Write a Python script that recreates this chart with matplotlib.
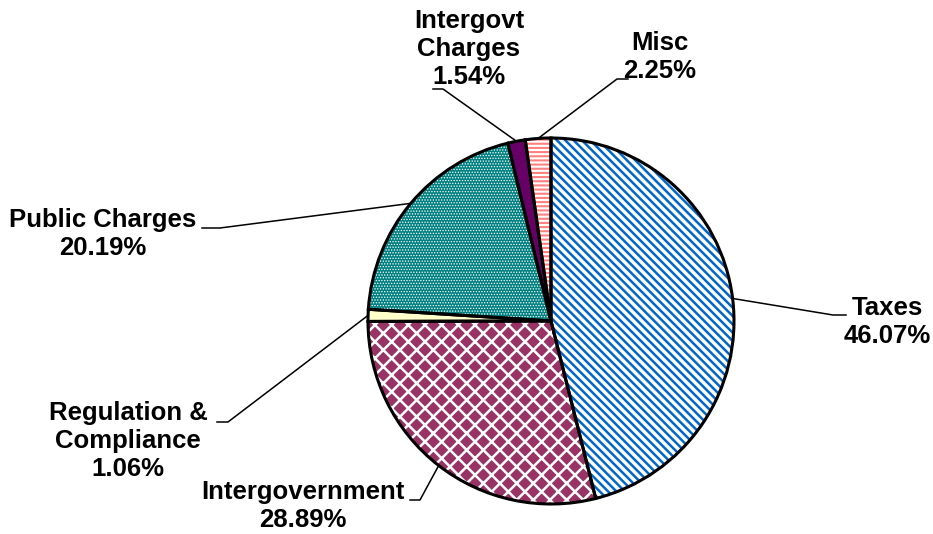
import numpy as np
import matplotlib
matplotlib.use("Agg")
import matplotlib.pyplot as plt

# revenue shares, clockwise from 12 o'clock
labels = ["Taxes", "Intergovernment", "Regulation &\nCompliance", "Public Charges",
          "Intergovt\nCharges", "Misc"]
shares = [46.07, 28.89, 1.06, 20.19, 1.54, 2.25]

# fill styles: face colour, hatch, hatch colour, hatch linewidth
faces = ["white", "#993366", "#FFFFCC", "#008080", "#660066", "white"]
hatches = ["\\\\\\\\", "xx", None, "......", None, "----"]
hatch_cols = ["#0066CC", "white", "#FFFFCC", "white", "#660066", "#FF8080"]
hatch_lw = [1.8, 1.8, 1.0, 0.6, 1.0, 1.5]

# label layout in pixels: text centre, elbow of leader, end of leader
text_pos = [(887, 322), (303, 506), (128, 441), (103, 234), (469, 49), (660, 57)]
elbow = [(833, 315), (420, 500), (228, 422), (220, 228), (443, 89), (617, 79)]
lead_end = [(846, 315), (410, 500), (217, 422), (202, 228), (433, 89), (628, 79)]

W, H = 933, 534
CX, CY, R = 551, 321, 183


def to_data(x, y):
    return (x - CX) / R, (CY - y) / R


plt.rcParams['font.family'] = ['Liberation Sans', 'DejaVu Sans']

fig = plt.figure(figsize=(W / 100, H / 100), dpi=100)
ax = fig.add_axes([0, 0, 1, 1])

# hatched fills
wedges, _ = ax.pie(shares, startangle=90, counterclock=False, radius=1,
                   wedgeprops=dict(linewidth=0))
for w, fc, h, hc, hl in zip(wedges, faces, hatches, hatch_cols, hatch_lw):
    w.set_facecolor(fc)
    w.set_edgecolor(hc)
    w.set_linewidth(0)
    if h:
        w.set_hatch(h)
        if hasattr(w, "set_hatch_linewidth"):
            w.set_hatch_linewidth(hl)

# black outlines on top
outl, _ = ax.pie(shares, startangle=90, counterclock=False, radius=1,
                 wedgeprops=dict(facecolor="none", edgecolor="black", linewidth=2.2))

for i, w in enumerate(wedges):
    mid = np.deg2rad((w.theta1 + w.theta2) / 2)
    ax_, ay_ = np.cos(mid), np.sin(mid)
    ex, ey = to_data(*elbow[i])
    lx, ly = to_data(*lead_end[i])
    ax.plot([ax_, ex, lx], [ay_, ey, ly], color="black", lw=1.1)
    tx, ty = to_data(*text_pos[i])
    ax.text(tx, ty, "%s\n%.2f%%" % (labels[i], shares[i]), ha="center", va="center",
            multialignment="center", fontsize=18.5, fontweight="bold", linespacing=1.2)

ax.set_xlim(-CX / R, (W - CX) / R)
ax.set_ylim(-(H - CY) / R, CY / R)
ax.set_aspect("auto")
ax.axis("off")

fig.savefig("out.png", dpi=100)
